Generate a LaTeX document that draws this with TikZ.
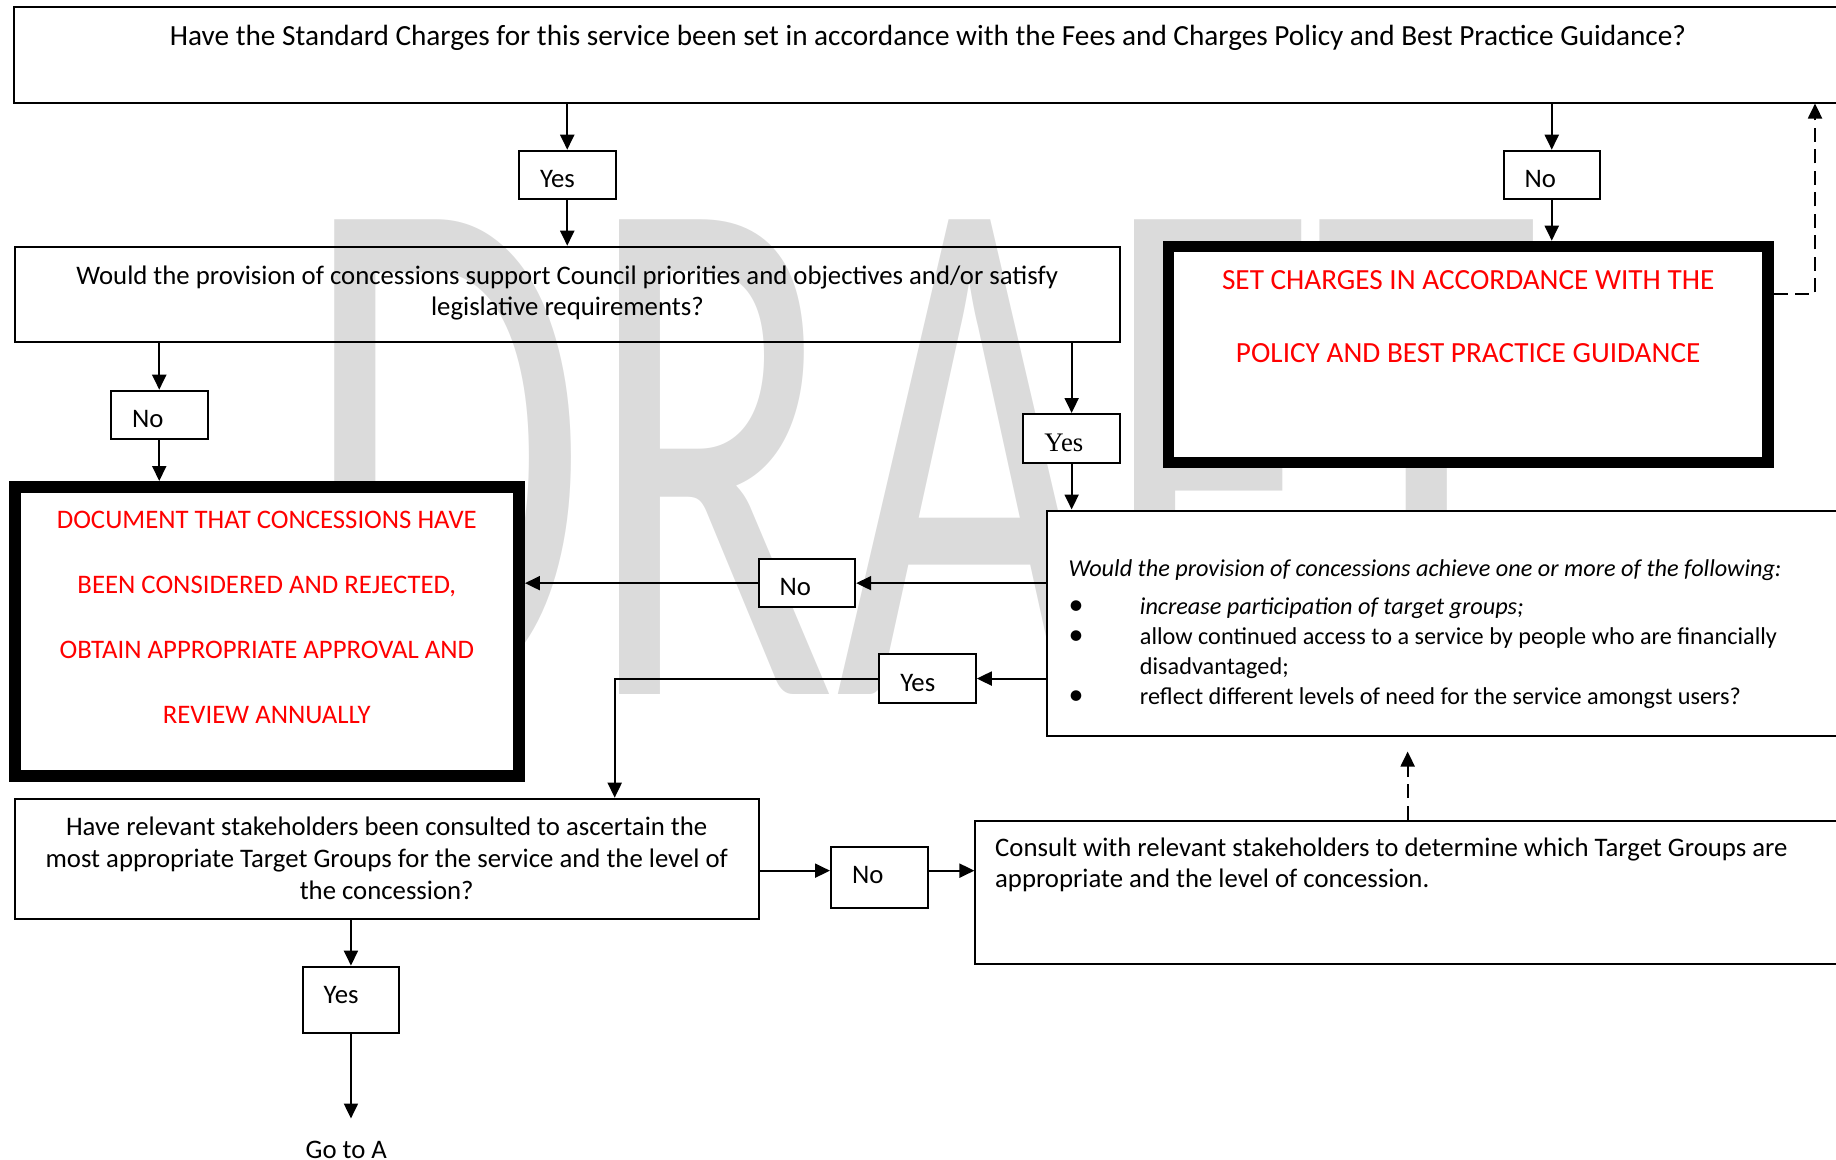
\documentclass[tikz,border=0pt]{standalone}
\usepackage{fontspec}
\usepackage{graphicx}
\setmainfont{Carlito}
\newfontfamily\tnr{Liberation Serif}
\usetikzlibrary{arrows.meta}
\newcommand{\bul}{\makebox[28.5pt][l]{\fontsize{12}{12}\selectfont\textbullet}}

\begin{document}
\begin{tikzpicture}[x=0.4pt, y=-0.4pt,
        qbox/.style={draw, line width=0.8pt, inner sep=0pt, anchor=north west},
        ans/.style={qbox, fill=white, inner xsep=8.4pt, text width=21.8pt, align=flush left,
            text height=14.8pt, text depth=#1, font=\fontsize{10.7}{12.5}\selectfont},
        ans/.default=4.6pt,
        act/.style={qbox, fill=white, line width=4.6pt, text=red, align=flush center},
        arr/.style={-{Triangle[length=6pt,width=5.6pt]}, line width=0.8pt},
        dasharr/.style={arr, dash pattern=on 5.6pt off 3pt}]

        \useasboundingbox (0,0) rectangle (1836,1160);
        \clip (0,0) rectangle (1836,1160);

        \node[anchor=base west, inner sep=0pt, text=black!14, font=\fontsize{296}{296}\selectfont]
            (wm) at (303,694) {\scalebox{0.622}[1]{DRAFT}};

        \node[qbox, text width=731.2pt, align=flush center, text height=15.4pt, text depth=23pt,
            font=\fontsize{11.7}{14}\selectfont] (q_1) at (13,5.5)
            {Have the Standard Charges for this service been set in accordance with the Fees and Charges Policy and Best Practice Guidance?};
        \node[qbox, text width=442.2pt, align=flush center, text height=15.3pt, text depth=23pt,
            font=\fontsize{10.7}{12.4}\selectfont] (q_2) at (13.6,245.7)
            {Would the provision of concessions support Council priorities and objectives and/or satisfy\\ legislative requirements?};
        \node[qbox, fill=white, inner xsep=8.6pt, text width=304pt, align=flush left, text height=26.2pt, text depth=63.8pt,
            font=\fontsize{9.7}{12}\selectfont] (q_3) at (1046.2,509.5)
            {\textit{Would the provision of concessions achieve one or more of the following:}\\[3.4pt]
             \bul\textit{increase participation of target groups;}\\
             \bul allow continued access to a service by people who are financially\\
             \hspace*{28.5pt}disadvantaged;\\
             \bul reflect different levels of need for the service amongst users?};
        \node[qbox, text width=297.6pt, align=flush center, text height=14.8pt, text depth=33.3pt,
            font=\fontsize{10.7}{12.85}\selectfont] (q_4) at (13.7,797.7)
            {Have relevant stakeholders been consulted to ascertain the\\ most appropriate Target Groups for the service and the level of\\ the concession?};

        \node[act, text width=239.8pt, text height=17.4pt, text depth=69pt,
            font=\fontsize{11.7}{29.2}\selectfont] (a_1) at (1162.7,240.7)
            {SET CHARGES IN ACCORDANCE WITH THE\\ POLICY AND BEST PRACTICE GUIDANCE};
        \node[act, line width=4.8pt, text width=201.7pt, text height=16.6pt, text depth=99pt,
            font=\fontsize{10.7}{26}\selectfont] (a_2) at (8.7,481)
            {DOCUMENT THAT CONCESSIONS HAVE\\ BEEN CONSIDERED AND REJECTED,\\ OBTAIN APPROPRIATE APPROVAL AND\\ REVIEW ANNUALLY};
        \node[qbox, inner xsep=7.9pt, text width=334pt, align=flush left, text height=14.3pt, text depth=43.1pt,
            font=\fontsize{10.7}{12.4}\selectfont] (a_3) at (974.4,819.6)
            {Consult with relevant stakeholders to determine which Target Groups are\\ appropriate and the level of concession.};

        \node[ans]        (y_1) at (518,149.7)   {Yes};
        \node[ans]        (n_1) at (1502.5,149.7) {No};
        \node[ans]        (n_2) at (110,389.7)   {No};
        \node[ans]        (y_2) at (1022.4,413)  {\tnr Yes};
        \node[ans]        (n_3) at (757.7,557.9) {No};
        \node[ans]        (y_3) at (878.3,653.3) {Yes};
        \node[ans=9.6pt]  (n_4) at (830,845.9)   {No};
        \node[ans=11.7pt] (y_4) at (301.7,965.6) {Yes};

        \node[anchor=base, inner sep=0pt, text height=15.6pt, font=\fontsize{10.7}{12}\selectfont]
            (goA) at (346.3,1158) {Go to A};

        \coordinate (n_4w) at ([yshift=2.7pt]n_4.west);
        \coordinate (n_4e) at ([yshift=2.7pt]n_4.east);
        \coordinate (a_3n) at ([xshift=-2pt]a_3.north);

        \draw[arr] (y_1.north |- q_1.south) -- (y_1.north);
        \draw[arr] (y_1.south) -- (y_1.south |- q_2.north);
        \draw[arr] (n_1.north |- q_1.south) -- (n_1.north);
        \draw[arr] (n_1.south) -- (n_1.south |- a_1.north);
        \draw[dasharr] ([yshift=24.2pt]a_1.east) -| ([xshift=354.8pt]q_1.south);
        \draw[arr] (n_2.north |- q_2.south) -- (n_2.north);
        \draw[arr] (n_2.south) -- (n_2.south |- a_2.north);
        \draw[arr] (y_2.north |- q_2.south) -- (y_2.north);
        \draw[arr] (y_2.south) -- (y_2.south |- q_3.north);
        \draw[arr] (q_3.west |- n_3.east) -- (n_3.east);
        \draw[arr] (n_3.west) -- (n_3.west -| a_2.east);
        \draw[arr] (q_3.west |- y_3.east) -- (y_3.east);
        \draw[arr] (y_3.west) -| ([xshift=91.2pt]q_4.north);
        \draw[arr] (q_4.east |- n_4w) -- (n_4w);
        \draw[arr] (n_4e) -- (a_3.west |- n_4e);
        \draw[dasharr, shorten >=6pt] (a_3n) -- (a_3n |- q_3.south);
        \draw[arr] (y_4.north |- q_4.south) -- (y_4.north);
        \draw[arr] (y_4.south) -- (y_4.south |- goA.north);
\end{tikzpicture}
\end{document}
